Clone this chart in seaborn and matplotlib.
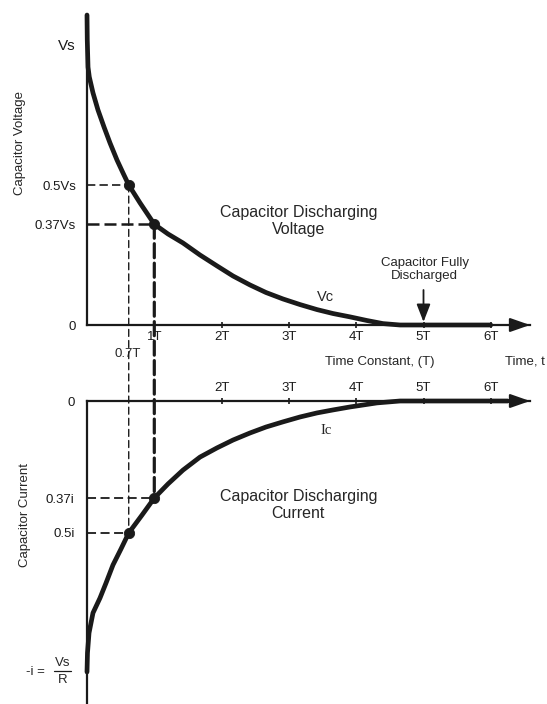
import numpy as np
import pandas as pd
import seaborn as sns
import matplotlib.pyplot as plt
from matplotlib.patches import ConnectionPatch

# curva de tension, t en constantes de tiempo, v en Vs
t_volt = [0.0, 0.004, 0.015, 0.034, 0.089, 0.163, 0.253, 0.342, 0.446, 0.535, 0.62,
          0.788, 1.0, 1.204, 1.426, 1.679, 1.932, 2.17, 2.422, 2.66, 2.912, 3.165,
          3.418, 3.655, 3.908, 4.16, 4.398, 4.651, 6.0]
v_volt = [1.107, 1.018, 0.921, 0.886, 0.829, 0.768, 0.707, 0.65, 0.589, 0.543, 0.5,
          0.436, 0.36, 0.325, 0.293, 0.25, 0.211, 0.175, 0.143, 0.116, 0.093, 0.073,
          0.055, 0.041, 0.029, 0.016, 0.005, 0.0, 0.0]

# curva de corriente, i en unidades de Vs/R
t_curr = [0.0, 0.007, 0.03, 0.089, 0.193, 0.282, 0.386, 0.505, 0.62, 0.817, 1.0,
          1.204, 1.426, 1.679, 1.932, 2.17, 2.422, 2.66, 2.912, 3.165, 3.418, 3.655,
          3.908, 4.309, 4.651, 6.25]
i_curr = [-1.0, -0.93, -0.856, -0.782, -0.727, -0.672, -0.605, -0.546, -0.487, -0.421,
          -0.358, -0.306, -0.255, -0.207, -0.173, -0.144, -0.118, -0.096, -0.077,
          -0.059, -0.044, -0.033, -0.022, -0.007, 0.0, 0.0]

# puntos marcados
t_half, t_one = 0.62, 1.0
v_half, v_one = 0.5, 0.36
i_half, i_one = -0.487, -0.358

x_ticks_top = [1, 2, 3, 4, 5, 6]
x_labels_top = ['1T', '2T', '3T', '4T', '5T', '6T']
x_ticks_bot = [2, 3, 4, 5, 6]
x_labels_bot = ['2T', '3T', '4T', '5T', '6T']

y_ticks_top = [0, v_one, v_half, 1.0]
y_labels_top = ['0', '0.37Vs', '0.5Vs', 'Vs']
y_ticks_bot = [0, i_one, i_half, -1.0]
y_labels_bot = ['0', '0.37i', '0.5i', '']

sns.set_theme(style='white')
plt.rcParams['font.family'] = ['Liberation Sans', 'DejaVu Sans']

W, H = 547, 704
fig = plt.figure(figsize=(W / 100, H / 100), dpi=100)
fig.patch.set_facecolor('white')

x0, x1 = 87, 530
px_T = 67.3
ax1 = fig.add_axes([x0 / W, (H - 325) / H, (x1 - x0) / W, (325 - 15) / H])
ax2 = fig.add_axes([x0 / W, 0, (x1 - x0) / W, (H - 401) / H])

xmax = (x1 - x0) / px_T
ax1.set_xlim(0, xmax)
ax1.set_ylim(0, 310 / 280)
ax2.set_xlim(0, xmax)
ax2.set_ylim(-303 / 271, 0)

for ax in (ax1, ax2):
    ax.set_facecolor('none')
    for s in ax.spines.values():
        s.set_visible(False)
        s.set_color('k')
        s.set_linewidth(1.6)
    ax.spines['left'].set_visible(True)

ax1.spines['bottom'].set_visible(True)
ax2.spines['top'].set_visible(True)

# curvas
volt = pd.DataFrame({'t': t_volt, 'v': v_volt})
curr = pd.DataFrame({'t': t_curr, 'i': i_curr})
sns.lineplot(data=volt, x='t', y='v', ax=ax1, color='k', lw=3.4, sort=False,
             estimator=None, clip_on=False, solid_capstyle='round',
             solid_joinstyle='round')
sns.lineplot(data=curr, x='t', y='i', ax=ax2, color='k', lw=3.4, sort=False,
             estimator=None, clip_on=False, solid_capstyle='round',
             solid_joinstyle='round')

# lineas punteadas horizontales
ax1.plot([0, t_half], [v_half, v_half], color='k', lw=1.2, ls=(0, (5, 2.5)))
ax1.plot([0, t_one], [v_one, v_one], color='k', lw=1.8, ls=(0, (4.8, 2)))
ax2.plot([0, t_one], [i_one, i_one], color='k', lw=1.3, ls=(0, (5, 2.5)))
ax2.plot([0, t_half], [i_half, i_half], color='k', lw=1.3, ls=(0, (5, 2.5)))

# lineas punteadas verticales entre los dos graficos
con1 = ConnectionPatch(xyA=(t_half, v_half), coordsA=ax1.transData,
                       xyB=(t_half, i_half), coordsB=ax2.transData,
                       color='k', lw=1.0, linestyle=(0, (5, 3)))
con2 = ConnectionPatch(xyA=(t_one, v_one), coordsA=ax1.transData,
                       xyB=(t_one, i_one), coordsB=ax2.transData,
                       color='k', lw=2.3, linestyle=(0, (4.4, 1.7)))
fig.add_artist(con1)
fig.add_artist(con2)

sns.scatterplot(x=[t_half, t_one], y=[v_half, v_one], ax=ax1, color='k', s=55,
                edgecolor='k', zorder=5)
sns.scatterplot(x=[t_half, t_one], y=[i_half, i_one], ax=ax2, color='k', s=55,
                edgecolor='k', zorder=5)

# flechas de los ejes x
for ax in (ax1, ax2):
    ax.annotate('', xy=(xmax, 0), xytext=(xmax - 0.3, 0), xycoords='data',
                arrowprops=dict(arrowstyle='-|>,head_length=1.0,head_width=0.35',
                                color='k', lw=1.6, shrinkA=0, shrinkB=0),
                annotation_clip=False)

# ticks
ax1.set_xticks(x_ticks_top)
ax1.set_xticklabels(x_labels_top)
ax1.tick_params(axis='x', bottom=True, direction='inout', length=5, width=1.2,
                pad=1.5, labelsize=9.5, colors='k')
ax2.xaxis.tick_top()
ax2.set_xticks(x_ticks_bot)
ax2.set_xticklabels(x_labels_bot)
ax2.tick_params(axis='x', top=True, bottom=False, direction='inout', length=5,
                width=1.2, pad=2.5, labelsize=9.5, colors='k')

ax1.set_yticks(y_ticks_top)
ax1.set_yticklabels(y_labels_top)
ax1.tick_params(axis='y', left=True, length=0, pad=8, labelsize=9.5, colors='k')
ax1.get_yticklabels()[3].set_fontsize(11)
ax2.set_yticks(y_ticks_bot)
ax2.set_yticklabels(y_labels_bot)
ax2.tick_params(axis='y', left=True, length=0, pad=9, labelsize=9.5, colors='k')
ax1.set_xlabel('')
ax1.set_ylabel('')
ax2.set_xlabel('')
ax2.set_ylabel('')

# etiqueta -i = Vs/R
ytr = ax2.get_yaxis_transform()
fx = lambda px: (px - x0) / (x1 - x0)
ax2.text(fx(45), -1.0, '-i =', ha='right', va='center', fontsize=9.5,
         transform=ytr, clip_on=False)
ax2.text(fx(62.5), -0.99, 'Vs', ha='center', va='bottom', fontsize=9.5,
         transform=ytr, clip_on=False)
ax2.text(fx(62.5), -1.007, 'R', ha='center', va='top', fontsize=9.5,
         transform=ytr, clip_on=False)
ax2.plot([fx(54), fx(71)], [-0.996, -0.996], color='k', lw=0.9, transform=ytr,
         clip_on=False)

# textos
ax1.text(3.14, 0.37, 'Capacitor Discharging\nVoltage', ha='center', va='center',
         fontsize=11.5, linespacing=1.15)
ax2.text(3.14, -0.384, 'Capacitor Discharging\nCurrent', ha='center', va='center',
         fontsize=11.5, linespacing=1.15)
ax1.text(3.54, 0.1, 'Vc', ha='center', va='center', fontsize=10.5)
ax2.text(3.56, -0.11, 'Ic', ha='center', va='center', fontsize=10.5,
         family='Liberation Serif')
ax1.text(5.02, 0.198, 'Capacitor Fully\nDischarged', ha='center', va='center',
         fontsize=9.5, linespacing=1.2)
ax1.annotate('', xy=(5, 0.011), xytext=(5, 0.125),
             arrowprops=dict(arrowstyle='-|>,head_length=0.9,head_width=0.35',
                             color='k', lw=1.3, shrinkA=0, shrinkB=0))
ax1.text(t_half - 0.01, -0.104, '0.7T', ha='center', va='center', fontsize=9.5,
         clip_on=False)
ax1.text(4.35, -0.132, 'Time Constant, (T)', ha='center', va='center', fontsize=9.5,
         clip_on=False)
ax1.text(6.21, -0.132, 'Time, t', ha='left', va='center', fontsize=9.5, clip_on=False)

fig.text(20 / W, 1 - 143 / H, 'Capacitor Voltage', rotation=90, ha='center',
         va='center', fontsize=9.5)
fig.text(25 / W, 1 - 515 / H, 'Capacitor Current', rotation=90, ha='center',
         va='center', fontsize=9.5)

fig.savefig('out.png', dpi=100)
